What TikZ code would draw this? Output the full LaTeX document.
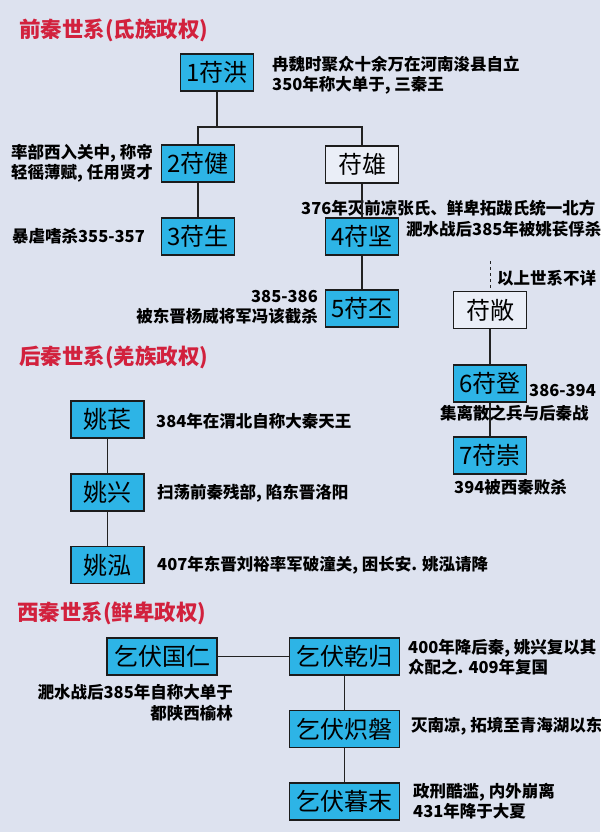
\documentclass[tikz,border=0pt]{standalone}
\usepackage{fontspec}
\setmainfont{Noto Sans CJK SC}
\definecolor{bgc}{HTML}{DDE2EF}
\definecolor{cyanc}{HTML}{2DB4E6}
\definecolor{whitec}{HTML}{EAEEF7}
\definecolor{boxline}{HTML}{1C1C1C}
\definecolor{linec}{HTML}{222222}
\definecolor{titlered}{HTML}{D2213D}
\tikzset{
  cbox/.style={draw=boxline, line width=1.8pt, fill=cyanc, minimum width=73pt, minimum height=37pt, inner sep=0pt, font=\fontsize{24}{24}\selectfont},
  wbox/.style={cbox, fill=whitec},
  widebox/.style={minimum width=110pt},
  note/.style={font=\fontsize{16.5}{20.5}\selectfont\bfseries, inner sep=0pt, align=left, text=black},
  ttl/.style={font=\fontsize{21.5}{22}\selectfont\bfseries, text=titlered, inner sep=0pt, anchor=west},
  link/.style={line width=1.5pt, draw=linec}
}
\begin{document}
\begin{tikzpicture}[x=1pt,y=-1pt]
\fill[bgc] (0,0) rectangle (600,832);
\useasboundingbox (0,0) rectangle (600,832);

% ---------- 前秦 ----------
\node[ttl] (t1) at (19,30) {前秦世系(氐族政权)};
\node[cbox] (f1) at (217,72.5) {1苻洪};
\node[note, anchor=west] (n1) at (272,75) {冉魏时聚众十余万在河南浚县自立\\350年称大单于, 三秦王};
\coordinate (j1) at (217,127);
\node[cbox] (f2) at (198,163.5) {2苻健};
\node[wbox] (fx) at (362,164.5) {苻雄};
\node[note, anchor=east] (n2) at (153,163) {率部西入关中, 称帝\\轻徭薄赋, 任用贤才};
\node[cbox] (f3) at (198,236.5) {3苻生};
\node[note, anchor=east] (n3) at (145,236.5) {暴虐嗜杀355-357};
\node[cbox] (f4) at (362,236.5) {4苻坚};
\node[note, anchor=west] (n4a) at (301,208) {376年灭前凉张氏、鲜卑拓跋氏统一北方};
\node[note, anchor=west] (n4b) at (406,229) {淝水战后385年被姚苌俘杀};
\node[cbox] (f5) at (362,308.5) {5苻丕};
\node[note, anchor=east, align=right] (n5) at (318,307) {385-386\\被东晋杨威将军冯该截杀};
\coordinate (dtop) at (490,261);
\node[wbox] (fc) at (490,310) {苻敞};
\node[note, anchor=west] (n6) at (497,278) {以上世系不详};
\node[cbox] (f6) at (490,383.5) {6苻登};
\node[note, anchor=west] (n7a) at (529,391) {386-394};
\node[note, anchor=west] (n7b) at (440,413) {集离散之兵与后秦战};
\node[cbox] (f7) at (490,455.5) {7苻崇};
\node[note, anchor=west] (n8) at (454,487) {394被西秦败杀};

\draw[link] (f1) -- (j1);
\draw[link] (f2.north) |- (j1) -| (fx.north);
\draw[link] (f2) -- (f3);
\draw[link] (fx) -- (f4);
\draw[link] (f4) -- (f5);
\draw[dashed, line width=1pt, draw=linec] (dtop) -- (fc.north);
\draw[link] (fc) -- (f6);
\draw[link] (f6) -- (f7);

% ---------- 后秦 ----------
\node[ttl] (t2) at (19,357) {后秦世系(羌族政权)};
\node[cbox] (y1) at (107.5,419.5) {姚苌};
\node[note, anchor=west] (m1) at (156,421) {384年在渭北自称大秦天王};
\node[cbox] (y2) at (107.5,492.5) {姚兴};
\node[note, anchor=west] (m2) at (157,493) {扫荡前秦残部, 陷东晋洛阳};
\node[cbox] (y3) at (107.5,565) {姚泓};
\node[note, anchor=west] (m3) at (157,565) {407年东晋刘裕率军破潼关, 困长安. 姚泓请降};
\draw[link] (y1) -- (y2);
\draw[link] (y2) -- (y3);

% ---------- 西秦 ----------
\node[ttl] (t3) at (17,613) {西秦世系(鲜卑政权)};
\node[cbox, widebox] (q1) at (162,656.5) {乞伏国仁};
\node[cbox, widebox] (q2) at (344.5,656.5) {乞伏乾归};
\node[note, anchor=west] (p2) at (408,657) {400年降后秦, 姚兴复以其\\众配之. 409年复国};
\node[note, anchor=east, align=right] (p1) at (233,703) {淝水战后385年自称大单于\\都陕西榆林};
\node[cbox, widebox] (q3) at (344.5,729) {乞伏炽磐};
\node[note, anchor=west] (p3) at (411,726) {灭南凉, 拓境至青海湖以东};
\node[cbox, widebox] (q4) at (344.5,801.5) {乞伏暮末};
\node[note, anchor=west] (p4) at (413,801) {政刑酷滥, 内外崩离\\431年降于大夏};
\draw[link] (q1) -- (q2);
\draw[link] (q2) -- (q3);
\draw[link] (q3) -- (q4);
\end{tikzpicture}
\end{document}
